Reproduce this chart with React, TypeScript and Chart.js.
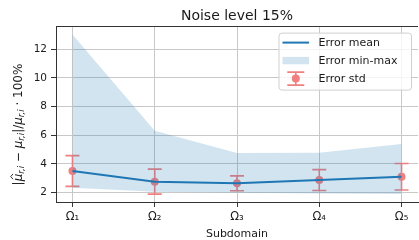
import React, { useEffect, useRef } from "react";
import { Chart, registerables } from "chart.js";

Chart.register(...registerables);

const categories = ["Ω₁", "Ω₂", "Ω₃", "Ω₄", "Ω₅"];
const errorMean = [3.51, 2.77, 2.65, 2.88, 3.11];
const errorMax = [13.02, 6.31, 4.76, 4.78, 5.39];
const errorMin = [2.35, 2.07, 2.0, 1.95, 1.91];
const errorStd = [1.07, 0.87, 0.52, 0.73, 0.92];
const yTicks = [2, 4, 6, 8, 10, 12];
const titleText = "Noise level 15%";
const xLabel = "Subdomain";
const legendLabels = ["Error mean", "Error min-max", "Error std"];

const FONT = "'DejaVu Sans', sans-serif";
const C0 = "#1f77b4";
const FILL = "rgba(31,119,180,0.2)";
const ERR = "#f08080";
const TEXT = "#1a1a1a";
const SPINE = "#333333";
const GRID = "#c8c8c8";

const errorBarPlugin = {
  id: "errorBars",
  beforeDatasetDraw(chart: any, args: any) {
    if (args.index !== 3) return;
    const { ctx, scales } = chart;
    const xs = scales.x;
    const ys = scales.y;
    ctx.save();
    ctx.strokeStyle = ERR;
    ctx.lineWidth = 1.6;
    errorMean.forEach((m, i) => {
      const px = xs.getPixelForValue(i);
      const top = ys.getPixelForValue(m + errorStd[i]);
      const bot = ys.getPixelForValue(m - errorStd[i]);
      ctx.beginPath();
      ctx.moveTo(px, top);
      ctx.lineTo(px, bot);
      ctx.moveTo(px - 7, top);
      ctx.lineTo(px + 7, top);
      ctx.moveTo(px - 7, bot);
      ctx.lineTo(px + 7, bot);
      ctx.stroke();
    });
    ctx.restore();
  },
};

const decorPlugin = {
  id: "decor",
  afterDraw(chart: any) {
    const { ctx, chartArea } = chart;
    const { left, right, top, bottom } = chartArea;
    ctx.save();
    // top spine
    ctx.strokeStyle = SPINE;
    ctx.lineWidth = 1;
    ctx.beginPath();
    ctx.moveTo(left, Math.round(top) + 0.5);
    ctx.lineTo(right, Math.round(top) + 0.5);
    ctx.stroke();

    // title
    ctx.fillStyle = TEXT;
    ctx.font = `14px ${FONT}`;
    ctx.textAlign = "center";
    ctx.textBaseline = "alphabetic";
    ctx.fillText(titleText, (left + right) / 2, top - 6.5);

    // x label
    ctx.font = `11px ${FONT}`;
    ctx.fillText(xLabel, (left + right) / 2, bottom + 35);

    // y label (rotated, mathtext-like)
    const main = `12px ${FONT}`;
    const ital = `italic 12px ${FONT}`;
    const sub = `italic 8.5px ${FONT}`;
    const segs: { t: string; f: string; sub?: boolean; hat?: boolean }[] = [
      { t: "|", f: main },
      { t: "μ", f: ital, hat: true },
      { t: "r,i", f: sub, sub: true },
      { t: " − ", f: main },
      { t: "μ", f: ital },
      { t: "r,i", f: sub, sub: true },
      { t: "|/", f: main },
      { t: "μ", f: ital },
      { t: "r,i", f: sub, sub: true },
      { t: " · 100%", f: main },
    ];
    let total = 0;
    const widths = segs.map((s) => {
      ctx.font = s.f;
      const w = ctx.measureText(s.t).width;
      total += w;
      return w;
    });
    ctx.translate(21.5, 124.5);
    ctx.rotate(-Math.PI / 2);
    ctx.textAlign = "left";
    let xx = -total / 2;
    segs.forEach((s, i) => {
      ctx.font = s.f;
      ctx.fillText(s.t, xx, s.sub ? 2.8 : 0);
      if (s.hat) {
        const cx = xx + widths[i] / 2 + 1;
        ctx.beginPath();
        ctx.lineWidth = 0.9;
        ctx.strokeStyle = TEXT;
        ctx.moveTo(cx - 2.6, -8.5);
        ctx.lineTo(cx, -10.8);
        ctx.lineTo(cx + 2.6, -8.5);
        ctx.stroke();
      }
      xx += widths[i];
    });
    ctx.restore();

    // legend
    ctx.save();
    const bw = 132.5;
    const bh = 57;
    const bx = right - 7 - bw;
    const by = top + 6.6;
    ctx.fillStyle = "rgba(255,255,255,0.8)";
    ctx.strokeStyle = "#d0d0d0";
    ctx.lineWidth = 1;
    ctx.beginPath();
    (ctx as any).roundRect(bx + 0.5, by + 0.5, bw, bh, 3);
    ctx.fill();
    ctx.stroke();

    const hx0 = bx + 4;
    const hx1 = bx + 30.6;
    const rows = [by + 10, by + 28, by + 46];
    // mean line
    ctx.strokeStyle = C0;
    ctx.lineWidth = 2;
    ctx.beginPath();
    ctx.moveTo(hx0, rows[0]);
    ctx.lineTo(hx1, rows[0]);
    ctx.stroke();
    // fill patch
    ctx.fillStyle = FILL;
    ctx.fillRect(hx0, rows[1] - 3.7, hx1 - hx0, 7.4);
    // errorbar handle
    const cx = (hx0 + hx1) / 2;
    ctx.strokeStyle = ERR;
    ctx.lineWidth = 1.6;
    ctx.beginPath();
    ctx.moveTo(cx, rows[2] - 6.5);
    ctx.lineTo(cx, rows[2] + 6.5);
    ctx.moveTo(cx - 8.5, rows[2] - 6.5);
    ctx.lineTo(cx + 8.5, rows[2] - 6.5);
    ctx.moveTo(cx - 8.5, rows[2] + 6.5);
    ctx.lineTo(cx + 8.5, rows[2] + 6.5);
    ctx.stroke();
    ctx.fillStyle = ERR;
    ctx.beginPath();
    ctx.arc(cx, rows[2], 4, 0, Math.PI * 2);
    ctx.fill();
    // texts
    ctx.fillStyle = TEXT;
    ctx.font = `11px ${FONT}`;
    ctx.textAlign = "left";
    ctx.textBaseline = "middle";
    legendLabels.forEach((l, i) => ctx.fillText(l, bx + 40, rows[i] + 0.5));
    ctx.restore();
  },
};

export default function App() {
  const ref = useRef<HTMLCanvasElement | null>(null);
  useEffect(() => {
    if (!ref.current) return;
    const pts = (arr: number[]) => arr.map((v, i) => ({ x: i, y: v }));
    const chart = new Chart(ref.current, {
      type: "line",
      data: {
        datasets: [
          {
            label: "max",
            data: pts(errorMax),
            borderWidth: 0,
            pointRadius: 0,
            backgroundColor: FILL,
            borderColor: "rgba(0,0,0,0)",
            fill: "+1",
            tension: 0,
          },
          {
            label: "min",
            data: pts(errorMin),
            borderWidth: 0,
            pointRadius: 0,
            borderColor: "rgba(0,0,0,0)",
            fill: false,
            tension: 0,
          },
          {
            label: legendLabels[0],
            data: pts(errorMean),
            borderColor: C0,
            borderWidth: 2,
            pointRadius: 0,
            fill: false,
            tension: 0,
          },
          {
            label: legendLabels[2],
            data: pts(errorMean),
            showLine: false,
            pointRadius: 4,
            pointBackgroundColor: ERR,
            pointBorderWidth: 0,
            backgroundColor: ERR,
            borderColor: ERR,
            fill: false,
          },
        ],
      },
      options: {
        responsive: false,
        animation: false,
        devicePixelRatio: 1,
        layout: { padding: { left: 0, right: 0, top: 26, bottom: 0 } },
        plugins: {
          legend: { display: false },
          tooltip: { enabled: false },
          title: { display: false },
        },
        scales: {
          x: {
            type: "linear",
            min: -0.2,
            max: 4.2,
            afterBuildTicks: (s: any) => {
              s.ticks = categories.map((_, i) => ({ value: i }));
            },
            afterFit: (s: any) => {
              s.height = 38;
            },
            ticks: {
              autoSkip: false,
              maxRotation: 0,
              padding: 3,
              color: TEXT,
              font: { family: FONT, size: 11.5 },
              callback: (v: any) => categories[Math.round(Number(v))],
            },
            grid: { color: GRID, lineWidth: 1, tickLength: 5, tickColor: SPINE },
            border: { color: SPINE, width: 1 },
          },
          y: {
            type: "linear",
            min: 1.35,
            max: 13.62,
            afterBuildTicks: (s: any) => {
              s.ticks = yTicks.map((v) => ({ value: v }));
            },
            afterFit: (s: any) => {
              s.width = 56;
            },
            ticks: {
              padding: 4,
              color: TEXT,
              font: { family: FONT, size: 10.5 },
              callback: (v: any) => String(v),
            },
            grid: { color: GRID, lineWidth: 1, tickLength: 5, tickColor: SPINE },
            border: { color: SPINE, width: 1 },
          },
        },
      },
      plugins: [errorBarPlugin, decorPlugin],
    } as any);
    return () => chart.destroy();
  }, []);
  return (
    <div
      style={{
        position: "fixed",
        left: 0,
        top: 0,
        width: 419,
        height: 240,
        overflow: "hidden",
        background: "#fff",
      }}
    >
      <canvas ref={ref} width={422} height={240} style={{ display: "block" }} />
    </div>
  );
}
